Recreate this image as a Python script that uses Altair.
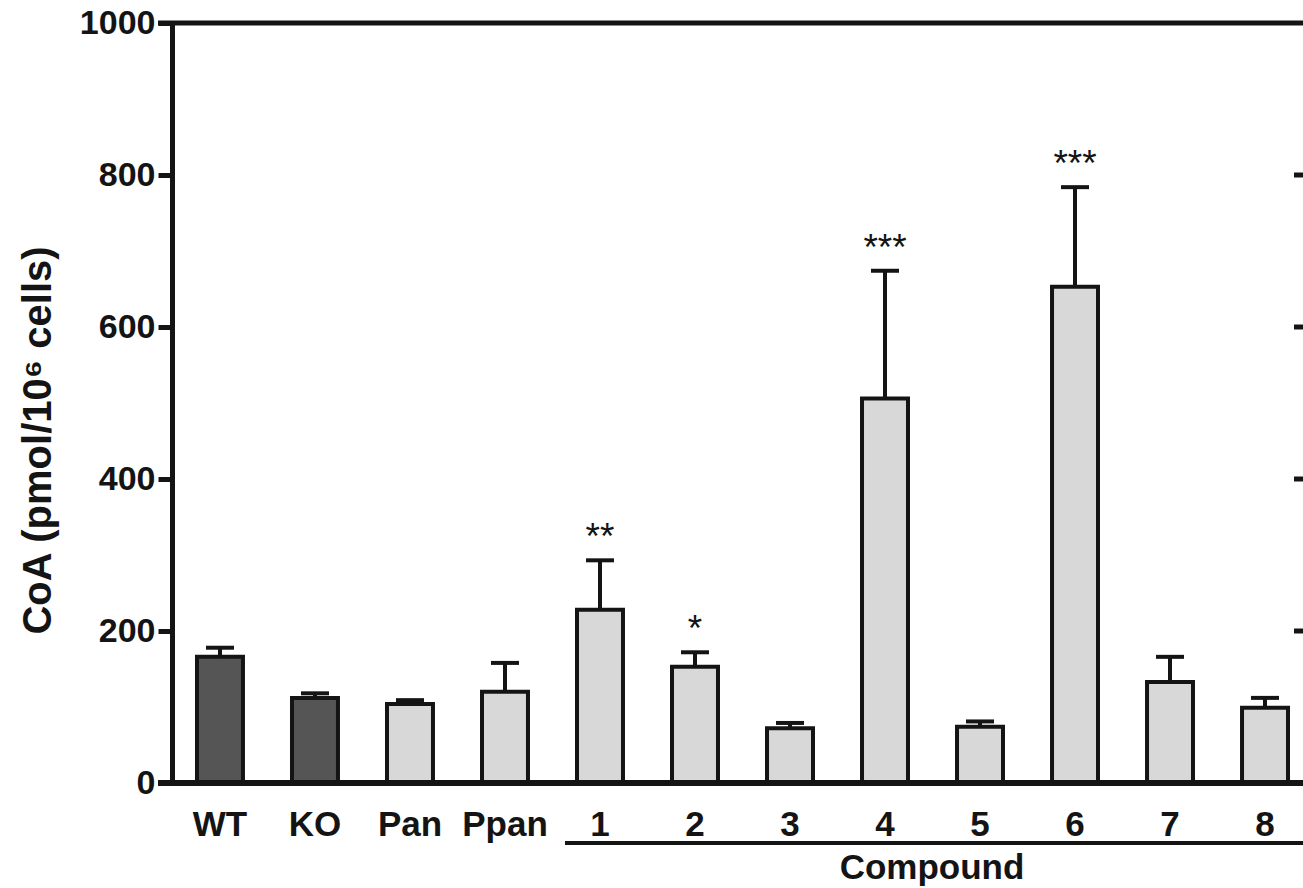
import altair as alt
import pandas as pd

categories = ["WT", "KO", "Pan", "Ppan", "1", "2", "3", "4", "5", "6", "7", "8"]
means = [166, 112, 104, 120, 228, 153, 72, 506, 74, 653, 133, 99]
upper = [178, 118, 109, 158, 293, 172, 79, 674, 81, 784, 166, 112]
groups = ["ctrl", "ctrl"] + ["treat"] * 10
stars = ["", "", "", "", "**", "*", "", "***", "", "***", "", ""]
y_ticks = [0, 200, 400, 600, 800, 1000]
right_ticks = [200, 400, 600, 800]

W, H = 1131, 760
FONT = "Liberation Sans"
INK = "#141414"

df = pd.DataFrame({"cat": categories, "mean": means, "upper": upper,
                   "group": groups, "star": stars})

xenc = alt.X("cat:N", sort=categories,
             scale=alt.Scale(domain=categories, range=[0, 1141],
                             paddingInner=0.516, paddingOuter=0.263),
             axis=alt.Axis(title=None, domain=False, ticks=False, labelAngle=0,
                           labelFont=FONT, labelFontSize=35, labelFontWeight="bold",
                           labelColor=INK, labelPadding=24, labelBaseline="top"))
yscale = alt.Scale(domain=[0, 1000], nice=False, zero=True)
yenc = alt.Y("mean:Q", scale=yscale,
             axis=alt.Axis(values=y_ticks, format="d", grid=False, domainWidth=5,
                           domainColor=INK, tickSize=14, tickWidth=5, tickColor=INK,
                           labelFont=FONT, labelFontSize=34, labelFontWeight="bold",
                           labelColor=INK, labelPadding=3,
                           title="CoA (pmol/10⁶ cells)", titleFont=FONT,
                           titleFontSize=40, titleFontWeight="bold", titleColor=INK,
                           titleAngle=-90, titleX=-134, titleY=417,
                           titleAlign="center", titleBaseline="middle"))

base = alt.Chart(df)

bars = base.mark_bar(stroke=INK, strokeWidth=4).encode(
    x=xenc, y=yenc,
    fill=alt.Fill("group:N", scale=alt.Scale(domain=["ctrl", "treat"],
                                             range=["#555555", "#d8d8d8"]), legend=None),
)
stems = base.mark_rule(color=INK, strokeWidth=4).encode(
    x="cat:N", y="mean:Q", y2="upper:Q")
caps = base.mark_tick(color=INK, thickness=4, size=28, opacity=1).encode(
    x="cat:N", y="upper:Q")
star_txt = base.mark_text(font=FONT, fontSize=37, color=INK, baseline="alphabetic",
                          dy=-11).encode(x="cat:N", y="upper:Q", text="star:N")

zero_df = pd.DataFrame({"v": [0]})
top_df = pd.DataFrame({"v": [1000]})
bottom_line = alt.Chart(zero_df).mark_rule(color=INK, strokeWidth=6).encode(
    y=alt.Y("v:Q", scale=yscale), x=alt.value(-14), x2=alt.value(W))
top_line = alt.Chart(top_df).mark_rule(color=INK, strokeWidth=5).encode(
    y=alt.Y("v:Q", scale=yscale), x=alt.value(-14), x2=alt.value(W))
rt = alt.Chart(pd.DataFrame({"v": right_ticks})).mark_rule(color=INK, strokeWidth=5).encode(
    y=alt.Y("v:Q", scale=yscale), x=alt.value(W - 9), x2=alt.value(W))

comp_line = alt.Chart(zero_df).mark_rule(color=INK, strokeWidth=4).encode(
    x=alt.value(393), x2=alt.value(W), y=alt.value(820))
comp_txt = alt.Chart(pd.DataFrame({"t": ["Compound"]})).mark_text(
    font=FONT, fontSize=35, fontWeight="bold", color=INK, baseline="alphabetic",
    align="center").encode(x=alt.value(760), y=alt.value(856), text="t:N")

chart = alt.layer(bars, stems, caps, star_txt, bottom_line, top_line, rt,
                  comp_line, comp_txt).properties(
    width=W, height=H,
    autosize=alt.AutoSizeParams(type="none"),
    padding={"left": 172, "top": 23, "right": 0, "bottom": 105},
).configure_view(stroke=None).configure(background="white")

chart.save("out.html", embed_options={"renderer": "svg", "actions": False})
